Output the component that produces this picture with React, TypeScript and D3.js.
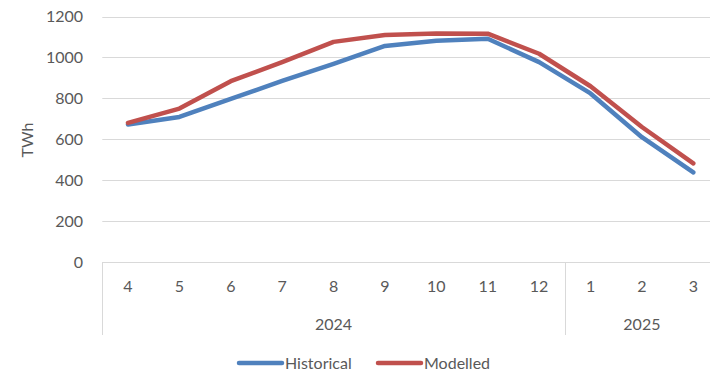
import React from "react";
import * as d3 from "d3";

const months = ["4", "5", "6", "7", "8", "9", "10", "11", "12", "1", "2", "3"];
const years = [
  { label: "2024", count: 9 },
  { label: "2025", count: 3 },
];
const historical = [672, 709, 797, 885, 968, 1056, 1082, 1091, 977, 824, 610, 438];
const modelled = [680, 750, 884, 977, 1076, 1110, 1117, 1116, 1018, 859, 660, 482];
const yTicks = [0, 200, 400, 600, 800, 1000, 1200];
const seriesNames = ["Historical", "Modelled"];
const colors = ["#4F81BD", "#C0504D"];

export default function App() {
  const W = 710, H = 374;
  const left = 102.3, right = 719;
  const top = 16.5, bottom = 262;
  const x = d3.scaleBand<string>().domain(months.map((m, i) => i + "")).range([left, right]);
  const y = d3.scaleLinear().domain([0, 1200]).range([bottom, top]);
  const line = d3.line<number>().x((d, i) => (x(i + "") as number) + x.bandwidth() / 2).y((d) => y(d));
  const font = "Lato, 'Liberation Sans', Arial, sans-serif";
  const fs = 16;
  const txt = "#595959";
  const grid = "#d9d9d9";
  let acc = 0;
  const yearBounds = years.map((yr) => {
    const s = acc;
    acc += yr.count;
    return { ...yr, start: s, end: acc };
  });
  return (
    <svg width={W} height={H} style={{ position: "absolute", left: 0, top: 0, background: "#fff" }}>
      {yTicks.map((t) => (
        <g key={t}>
          <line x1={left} x2={right} y1={Math.round(y(t)) + 0.5} y2={Math.round(y(t)) + 0.5} stroke={grid} strokeWidth={1} />
          <text x={83} y={y(t)} dy="0.35em" textAnchor="end" fontFamily={font} fontSize={fs} fill={txt}>{t}</text>
        </g>
      ))}
      <text transform={`translate(33,140) rotate(-90)`} textAnchor="middle" fontFamily={font} fontSize={fs} fill={txt}>TWh</text>
      {[0, ...yearBounds.map((b) => b.end)].map((i, k) => {
        const xx = i === 0 ? left : (x(i - 1 + "") as number) + x.bandwidth();
        return <line key={k} x1={Math.round(xx) + 0.5} x2={Math.round(xx) + 0.5} y1={bottom} y2={335} stroke={grid} strokeWidth={1} />;
      })}
      {months.map((m, i) => (
        <text key={i} x={(x(i + "") as number) + x.bandwidth() / 2} y={292} textAnchor="middle" fontFamily={font} fontSize={fs} fill={txt}>{m}</text>
      ))}
      {yearBounds.map((b) => {
        const x0 = x(b.start + "") as number;
        const x1 = (x(b.end - 1 + "") as number) + x.bandwidth();
        return (
          <text key={b.label} x={(x0 + x1) / 2} y={330} textAnchor="middle" fontFamily={font} fontSize={fs} fill={txt}>{b.label}</text>
        );
      })}
      {[historical, modelled].map((s, i) => (
        <path key={i} d={line(s) || ""} fill="none" stroke={colors[i]} strokeWidth={4.5} strokeLinejoin="round" strokeLinecap="round" />
      ))}
      {seriesNames.map((n, i) => {
        const lx = i === 0 ? 239 : 378;
        return (
          <g key={n}>
            <line x1={lx} x2={lx + 43} y1={363} y2={363} stroke={colors[i]} strokeWidth={4.5} strokeLinecap="round" />
            <text x={lx + 46} y={369} fontFamily={font} fontSize={fs} fill={txt}>{n}</text>
          </g>
        );
      })}
    </svg>
  );
}
